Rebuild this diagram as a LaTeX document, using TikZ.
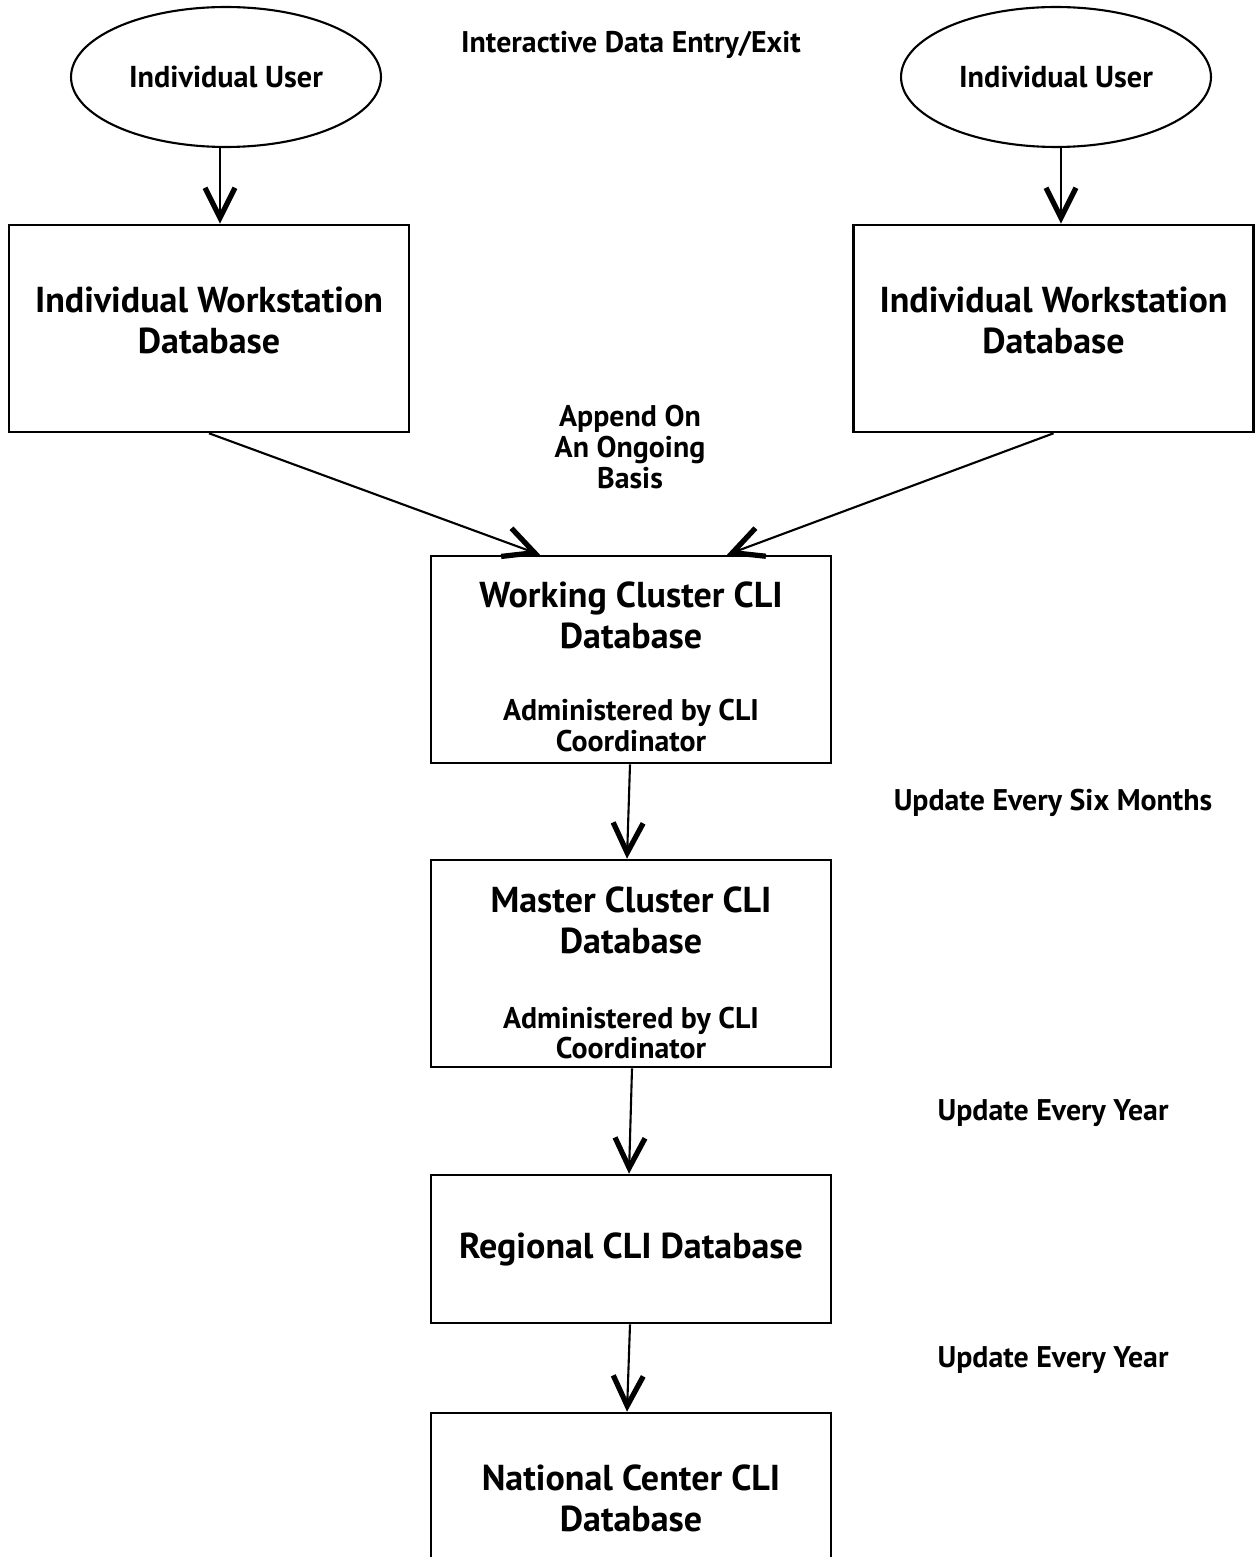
\documentclass[tikz,border=0pt]{standalone}
\usepackage{fontspec}
\setmainfont{PT Sans}
\usetikzlibrary{arrows.meta,shapes.geometric}
\begin{document}
\begin{tikzpicture}[x=0.02cm,y=-0.02cm,
  box/.style={draw,line width=1.5pt,minimum width=8cm,align=center,inner sep=0pt},
  user/.style={draw,ellipse,line width=1.2pt,minimum width=6.2cm,minimum height=2.8cm,inner sep=0pt,font=\bfseries\fontsize{17.2}{20}\selectfont},
  big/.style={font=\bfseries\fontsize{20.5}{23.3}\selectfont},
  small/.style={font=\bfseries\fontsize{17}{17.6}\selectfont,align=center},
  flow/.style={line width=1.2pt,-{Straight Barb[length=0.6cm,width=0.6cm,line width=3pt]}}]
\clip (0,0) rectangle (1257,1557);
\fill[white] (0,0) rectangle (1257,1557);

% users
\node[user] (u1) at (226,77) {Individual User};
\node[user] (u2) at (1056,77) {Individual User};
\node[small] (entry) at (631,45) {Interactive Data Entry/Exit};

% workstation databases
\node[box,minimum height=4.14cm] (w1) at (209,328.5) {};
\node[big,align=center] (w1t) at (209,320) {Individual Workstation\\Database};
\node[box,minimum height=4.14cm] (w2) at (1053.5,328.5) {};
\node[big,align=center] (w2t) at (1053.5,320) {Individual Workstation\\Database};

\node[small] (append) at (630,447) {Append On\\An Ongoing\\Basis};

% cluster databases
\node[box,minimum height=4.14cm] (wc) at (631,659.5) {};
\node[big,align=center] (wct) at (631,615) {Working Cluster CLI\\Database};
\node[small] (wcs) at (631,726) {Administered by CLI\\Coordinator};

\node[box,minimum height=4.14cm] (mc) at (631,963.5) {};
\node[big,align=center] (mct) at (631,920) {Master Cluster CLI\\Database};
\node[small] (mcs) at (631,1033) {Administered by CLI\\Coordinator};

\node[box,minimum height=2.96cm,big] (rg) at (631,1249) {Regional CLI Database};

\node[box,minimum height=4.14cm] (nc) at (631,1516.5) {};
\node[big,align=center] (nct) at (631,1498) {National Center CLI\\Database};

% update labels
\node[small] (six) at (1053,803) {Update Every Six Months};
\node[small] (yr1) at (1053,1113) {Update Every Year};
\node[small] (yr2) at (1053,1360) {Update Every Year};

% connectors
\draw[flow] (u1.south -| 220,0) -- (w1.north -| 220,0);
\draw[flow] (u2.south -| 1061,0) -- (w2.north -| 1061,0);
\draw[flow] (w1.south) -- (wc.north -| 540,0);
\draw[flow] (w2.south) -- (wc.north -| 727,0);
\draw[flow] (wc.south -| 630,0) -- (mc.north -| 627,0);
\draw[flow] (mc.south -| 632,0) -- (rg.north -| 629,0);
\draw[flow] (rg.south -| 630,0) -- (nc.north -| 627,0);
\end{tikzpicture}
\end{document}
